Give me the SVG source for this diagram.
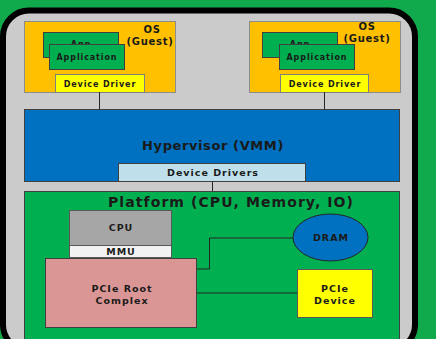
<svg xmlns="http://www.w3.org/2000/svg" width="436" height="339" viewBox="0 0 436 339">
<style>
text{font-family:"DejaVu Sans","Verdana",sans-serif;font-weight:bold;text-anchor:middle;fill:#1a1a1a}
.os{fill:#ffc000;stroke:#8c8c8c;stroke-width:1}
.app{fill:#00b050;stroke:#404040;stroke-width:1}
.dd{fill:#ffff00;stroke:#7f7f7f;stroke-width:1}
.ln{fill:none;stroke:#262626;stroke-width:1}
.s8{font-size:8px;letter-spacing:0.9px}
.s9{font-size:9.5px;letter-spacing:1px}
.ost{font-size:10px;letter-spacing:0.7px}
</style>
<rect x="0" y="0" width="436" height="339" fill="#10a94c"/>
<rect x="3" y="10.5" width="412" height="340" rx="26" fill="#cbcbcb" stroke="#000" stroke-width="6"/>
<g id="os-left">
<rect class="os" x="24.5" y="21.5" width="151" height="71"/>
<rect class="app" x="43.5" y="32.5" width="75" height="25"/>
<text class="s8" x="81" y="47">App</text>
<rect class="app" x="49.5" y="44.5" width="75" height="25"/>
<text class="s8" x="87" y="60">Application</text>
<rect class="dd" x="55.5" y="74.5" width="89" height="18"/>
<text class="s8" x="100" y="86.5">Device Driver</text>
<text class="ost" x="152" y="33">OS</text>
<text class="ost" x="150" y="45">(Guest)</text>
</g>
<g id="os-right">
<rect class="os" x="249.5" y="21.5" width="151" height="71"/>
<rect class="app" x="262.5" y="32.5" width="75" height="25"/>
<text class="s8" x="300" y="47">App</text>
<rect class="app" x="279.5" y="44.5" width="75" height="25"/>
<text class="s8" x="317" y="60">Application</text>
<rect class="dd" x="280.5" y="74.5" width="88" height="18"/>
<text class="s8" x="325" y="86.5">Device Driver</text>
<text class="ost" x="367" y="30">OS</text>
<text class="ost" x="367" y="42">(Guest)</text>
</g>
<g id="hypervisor">
<rect x="24.5" y="109.5" width="375" height="72" fill="#0070c0" stroke="#404040" stroke-width="1"/>
<text x="213" y="150" font-size="13" letter-spacing="0.6">Hypervisor (VMM)</text>
<rect x="118.5" y="163.5" width="187" height="18" fill="#bfe0ea" stroke="#404040" stroke-width="1"/>
<text class="s9" x="213" y="175.5">Device Drivers</text>
</g>
<g id="platform">
<rect x="24.5" y="191.5" width="375" height="160" fill="#00b050" stroke="#404040" stroke-width="1"/>
<text x="230.5" y="207" font-size="14" textLength="245" lengthAdjust="spacing">Platform (CPU, Memory, IO)</text>
</g>
<g id="connectors">
<path class="ln" d="M99.5 92V109M324.5 92V109M212.5 181V191"/>
<path class="ln" d="M196 269H209.5V238H293M196 293H297"/>
</g>
<g id="cpu">
<rect x="69.5" y="210.5" width="102" height="35" fill="#a6a6a6" stroke="#595959" stroke-width="1"/>
<text class="s9" x="121" y="231">CPU</text>
<rect x="69.5" y="245.5" width="102" height="12" fill="#f2f2f2" stroke="#595959" stroke-width="1"/>
<text class="s9" x="121" y="255" letter-spacing="1.5">MMU</text>
</g>
<g id="root-complex">
<rect x="45.5" y="258.5" width="151" height="69" fill="#da9694" stroke="#404040" stroke-width="1"/>
<text class="s9" x="122" y="292">PCIe Root</text>
<text class="s9" x="122" y="303.5">Complex</text>
</g>
<g id="dram">
<ellipse cx="330.5" cy="237.5" rx="37.5" ry="23.5" fill="#0070c0" stroke="#262626" stroke-width="1"/>
<text class="s9" x="331" y="241">DRAM</text>
</g>
<g id="pcie-device">
<rect x="297.5" y="269.5" width="75" height="48" fill="#ffff00" stroke="#595959" stroke-width="1"/>
<text class="s9" x="335" y="292">PCIe</text>
<text class="s9" x="335" y="303.5">Device</text>
</g>
</svg>
